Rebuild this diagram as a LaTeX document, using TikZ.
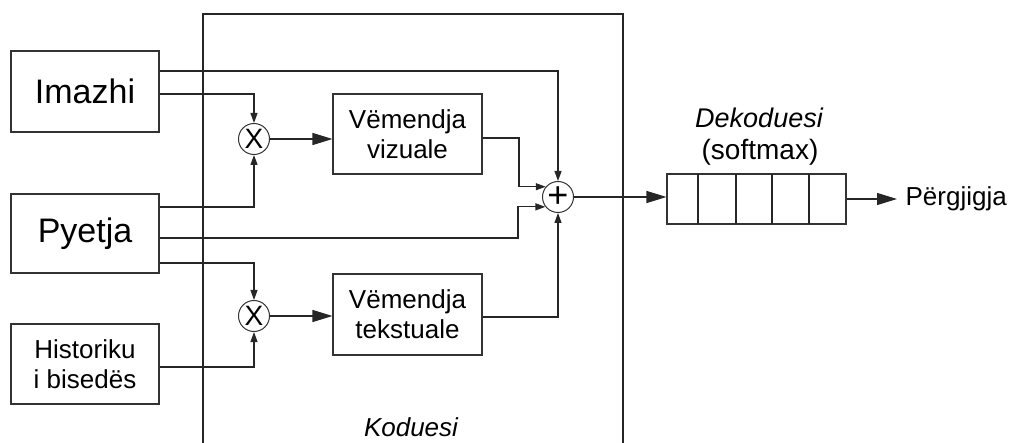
\documentclass[tikz,border=0pt]{standalone}
\usepackage{fontspec}
\setmainfont{Liberation Sans}
\usetikzlibrary{arrows.meta,calc}
\begin{document}
\begin{tikzpicture}[x=1pt,y=-1pt,
  line width=1.2pt, draw=black!85,
  box/.style={draw=black!80, line width=1.1pt, align=center, inner sep=0pt},
  op/.style={circle, draw=black!80, line width=1pt, minimum size=31pt, inner sep=0pt, font=\fontsize{28}{28}\selectfont},
  barr/.style={-{Triangle[length=20pt,width=12pt]}},
  sarr/.style={-{Triangle[length=10pt,width=7pt]}},
  big/.style={font=\fontsize{34}{40}\selectfont},
  mid/.style={font=\fontsize{26}{30}\selectfont},
]
\useasboundingbox (0,0) rectangle (1011,443);
% encoder frame
\draw[black!85] (203,443) -- (203,14) -- (623,14) -- (623,443);
\node[mid, font=\fontsize{26}{30}\selectfont\itshape] (kod) at (411,427) {Koduesi};

% inputs
\node[box, big, minimum width=148pt, minimum height=81pt] (im) at (85,91.5) {Imazhi};
\node[box, big, minimum width=148pt, minimum height=79pt] (py) at (85,233.5) {Pyetja};
\node[box, mid, minimum width=148pt, minimum height=80pt] (hi) at (85,364) {Historiku\\i bisedës};

% multipliers
\node[op] (x1) at (254,139) {X};
\node[op] (x2) at (254,316) {X};

% attention boxes
\node[box, mid, minimum width=149pt, minimum height=80pt] (viz) at (407.5,134) {Vëmendja\\vizuale};
\node[box, mid, minimum width=149pt, minimum height=81pt] (tek) at (407.5,314.5) {Vëmendja\\tekstuale};

% sum
\node[op, font=\fontsize{36}{36}\selectfont] (plus) at (558,197) {+};

% decoder
\node[box, minimum width=179pt, minimum height=50pt] (dec) at (756.5,199) {};
\foreach \xx in {698,736,772,809}
  \draw[black!85, line width=1.1pt] (\xx,174) -- (\xx,224);
\node[font=\fontsize{27}{30}\selectfont\itshape] (dk) at (759,118) {Dekoduesi};
\node[font=\fontsize{28}{30}\selectfont] (sm) at (760,152) {(softmax)};
\node[mid, anchor=west, inner xsep=8pt, inner ysep=0pt] (ans) at (897,199) {Përgjigja};

% connectors
\draw[sarr] (im.east |- 0,71) -| (plus.north);
\draw[sarr] (im.east |- 0,94) -| (x1.north);
\draw[sarr] (py.east |- 0,207) -| (x1.south);
\draw[sarr] (py.east |- 0,238) -- (518,238) |- (plus.218);
\draw[sarr] (py.east |- 0,263) -| (x2.north);
\draw[sarr] (hi.east |- 0,367) -| (x2.south);
\draw[barr] (x1.east) -- (x1.east -| viz.west);
\draw[barr] (x2.east) -- (x2.east -| tek.west);
\draw[sarr] (viz.east |- 0,138) -- (519,138) |- (plus.140);
\draw[sarr] (tek.east |- 0,317) -| (plus.south);
\draw[barr] (plus.east) -- (plus.east -| dec.west);
\draw[barr] (dec.east) -- (ans.west);
\end{tikzpicture}
\end{document}
